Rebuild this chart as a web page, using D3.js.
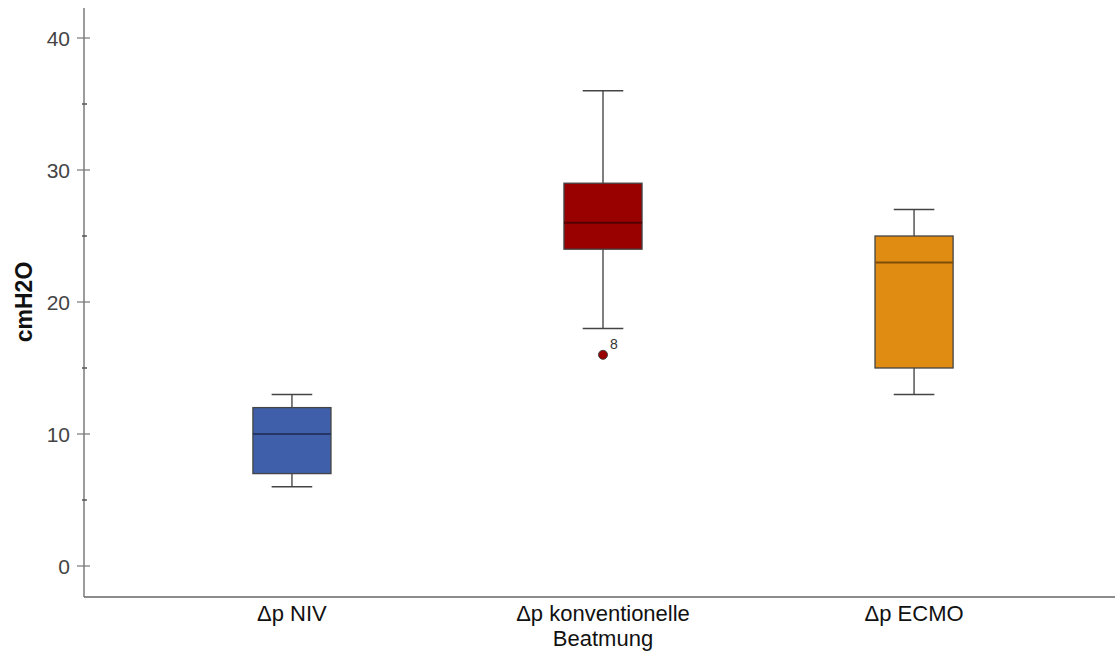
<!DOCTYPE html>
<html>
<head>
<meta charset="utf-8">
<script src="https://cdn.jsdelivr.net/npm/d3@7"></script>
<style>
  body { margin: 0; background: #fff; }
  text { font-family: "Liberation Sans", Arial, sans-serif; }
</style>
</head>
<body>
<div id="chart"></div>
<script>
const width = 1115;
const height = 652;

// Daten
const categories = ["Δp NIV", "Δp konventionelle Beatmung", "Δp ECMO"];
const labelLines = [["Δp NIV"], ["Δp konventionelle", "Beatmung"], ["Δp ECMO"]];
const whiskerLow = [6, 18, 13];
const q1 = [7, 24, 15];
const medians = [10, 26, 23];
const q3 = [12, 29, 25];
const whiskerHigh = [13, 36, 27];
const outliers = [[], [{ v: 16, id: "8" }], []];
const colors = ["#3f5fab", "#990000", "#e08b12"];
const majorTicks = [0, 10, 20, 30, 40];
const minorTicks = [5, 15, 25, 35];

const axisX = 84;
const axisBottom = 597;

const svg = d3.select("#chart")
  .append("svg")
  .attr("width", width)
  .attr("height", height);

const x = d3.scaleBand()
  .domain(categories)
  .range([axisX, 1122])
  .paddingInner(0.749)
  .paddingOuter(0.543);

const y = d3.scaleLinear()
  .domain([0, 40])
  .range([566, 38]);

// Achsen
svg.append("line")
  .attr("x1", axisX).attr("x2", axisX)
  .attr("y1", 8).attr("y2", axisBottom)
  .attr("stroke", "#666").attr("stroke-width", 1.3);
svg.append("line")
  .attr("x1", axisX).attr("x2", width)
  .attr("y1", axisBottom).attr("y2", axisBottom)
  .attr("stroke", "#666").attr("stroke-width", 1.3);

svg.selectAll(".major")
  .data(majorTicks)
  .enter()
  .append("line")
  .attr("x1", 77).attr("x2", 90)
  .attr("y1", d => y(d)).attr("y2", d => y(d))
  .attr("stroke", "#777").attr("stroke-width", 1.2);

svg.selectAll(".minor")
  .data(minorTicks)
  .enter()
  .append("line")
  .attr("x1", 82).attr("x2", 87)
  .attr("y1", d => y(d)).attr("y2", d => y(d))
  .attr("stroke", "#555").attr("stroke-width", 1.5);

svg.selectAll(".ticklabel")
  .data(majorTicks)
  .enter()
  .append("text")
  .attr("x", 70)
  .attr("y", d => y(d))
  .attr("dy", "0.36em")
  .attr("text-anchor", "end")
  .attr("font-size", 21)
  .attr("fill", "#444")
  .text(d => d);

svg.append("text")
  .attr("transform", "translate(32," + y(20) + ") rotate(-90)")
  .attr("text-anchor", "middle")
  .attr("font-size", 23)
  .attr("font-weight", "bold")
  .attr("fill", "#111")
  .text("cmH2O");

// Boxen
const g = svg.selectAll(".box")
  .data(categories)
  .enter()
  .append("g");

const bw = x.bandwidth();
const cap = bw * 0.52;

g.each(function(c, i) {
  const sel = d3.select(this);
  const cx = x(c) + bw / 2;
  sel.append("line")
    .attr("x1", cx).attr("x2", cx)
    .attr("y1", y(whiskerHigh[i])).attr("y2", y(q3[i]))
    .attr("stroke", "#555").attr("stroke-width", 1.5);
  sel.append("line")
    .attr("x1", cx).attr("x2", cx)
    .attr("y1", y(q1[i])).attr("y2", y(whiskerLow[i]))
    .attr("stroke", "#555").attr("stroke-width", 1.5);
  sel.selectAll(".cap")
    .data([whiskerLow[i], whiskerHigh[i]])
    .enter()
    .append("line")
    .attr("x1", cx - cap / 2).attr("x2", cx + cap / 2)
    .attr("y1", d => y(d)).attr("y2", d => y(d))
    .attr("stroke", "#444").attr("stroke-width", 1.5);
  sel.append("rect")
    .attr("x", x(c))
    .attr("y", y(q3[i]))
    .attr("width", bw)
    .attr("height", y(q1[i]) - y(q3[i]))
    .attr("fill", colors[i])
    .attr("stroke", "#444")
    .attr("stroke-width", 1.3);
  sel.append("line")
    .attr("x1", x(c)).attr("x2", x(c) + bw)
    .attr("y1", y(medians[i])).attr("y2", y(medians[i]))
    .attr("stroke", d3.color(colors[i]).darker(1.6))
    .attr("stroke-width", 2);
  outliers[i].forEach(o => {
    sel.append("circle")
      .attr("cx", cx).attr("cy", y(o.v))
      .attr("r", 4.5)
      .attr("fill", colors[i])
      .attr("stroke", "#444").attr("stroke-width", 1);
    sel.append("text")
      .attr("x", cx + 7).attr("y", y(o.v) - 6)
      .attr("font-size", 14)
      .attr("fill", "#333")
      .text(o.id);
  });
  sel.selectAll(".xl")
    .data(labelLines[i])
    .enter()
    .append("text")
    .attr("x", cx)
    .attr("y", (d, k) => 621 + k * 25)
    .attr("text-anchor", "middle")
    .attr("font-size", 22)
    .attr("fill", "#111")
    .text(d => d);
});
</script>
</body>
</html>
